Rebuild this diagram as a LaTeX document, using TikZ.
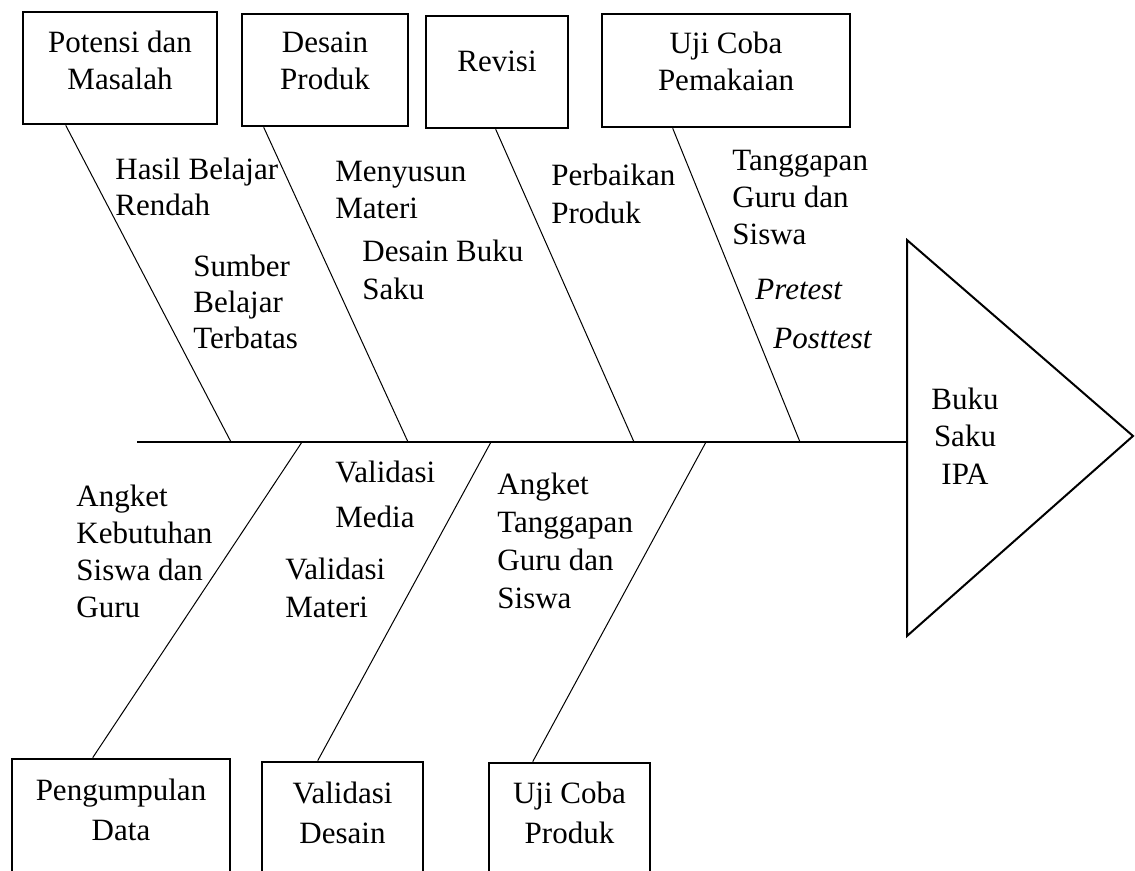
\documentclass[tikz,border=0pt]{standalone}
\usepackage{fontspec}
\setmainfont{Liberation Serif}
\usetikzlibrary{calc}

\begin{document}
\begin{tikzpicture}[x=0.5pt,y=-0.5pt,font=\fontsize{15.5}{18.5}\selectfont,
  procbox/.style={draw,line width=1.3pt,inner xsep=0pt,inner ysep=0pt,align=center,anchor=base},
  cause/.style={anchor=base west,align=left,inner sep=0pt},
  bone/.style={line width=0.5pt},
  spine/.style={line width=1.2pt}]
  \useasboundingbox (0,0) rectangle (1135,871);
  \clip (0,0) rectangle (1135,871);

  \node[procbox,minimum width=97pt,text height=39pt,text depth=17pt] (potensi) at (120,90) {Potensi dan\\Masalah};
  \node[procbox,minimum width=83pt,text height=38pt,text depth=18pt] (desain) at (325,90) {Desain\\Produk};
  \node[procbox,minimum width=71pt,text height=28pt,text depth=28pt] (revisi) at (497,72) {Revisi};
  \node[procbox,minimum width=124pt,text height=38.5pt,text depth=18pt] (ujipakai) at (726,91) {Uji Coba\\Pemakaian};
  \node[procbox,font=\fontsize{15.5}{20}\selectfont,minimum width=109pt,text height=40.5pt,text depth=25pt] (kumpul) at (121,840) {Pengumpulan\\Data};
  \node[procbox,font=\fontsize{15.5}{20}\selectfont,minimum width=80.5pt,text height=40.5pt,text depth=22pt] (valdesain) at (342.5,843) {Validasi\\Desain};
  \node[procbox,font=\fontsize{15.5}{20}\selectfont,minimum width=80.5pt,text height=40pt,text depth=22pt] (ujiproduk) at (569.5,843) {Uji Coba\\Produk};

  \coordinate (tail) at (137,442);
  \coordinate (head) at (907,442);
  \foreach \n/\x in {s1/231,s2/408,s3/634,s4/800,s5/302,s6/491,s7/706}
    \coordinate (\n) at (\x,442);

  \draw[spine] (tail) -- (head);
  \draw[line width=1pt] (907,240) coordinate (tritop) -- (1133,436) coordinate (tip) -- (907,636) coordinate (tribot) -- cycle;
  \node[align=center,anchor=base] (buku) at (965,484) {Buku\\Saku\\IPA};

  \draw[bone] ($(potensi.south west)+(44,0)$) -- (s1);
  \draw[bone] ($(desain.south west)+(23,0)$) -- (s2);
  \draw[bone] ($(revisi.south west)+(71,0)$) -- (s3);
  \draw[bone] ($(ujipakai.south west)+(72,0)$) -- (s4);
  \draw[bone] ($(kumpul.north west)+(82,0)$) -- (s5);
  \draw[bone] ($(valdesain.north west)+(57,0)$) -- (s6);
  \draw[bone] ($(ujiproduk.north west)+(45,0)$) -- (s7);

  \node[cause,font=\fontsize{15.5}{18}\selectfont] (hasil) at (115,216) {Hasil Belajar\\Rendah};
  \node[cause,font=\fontsize{15.5}{18}\selectfont] (sumber) at (193,349) {Sumber\\Belajar\\Terbatas};
  \node[cause] (menyusun) at (335,219) {Menyusun\\Materi};
  \node[cause,font=\fontsize{15.5}{19}\selectfont] (desbuku) at (362,300) {Desain Buku\\Saku};
  \node[cause,font=\fontsize{15.5}{19}\selectfont] (perbaikan) at (551,224) {Perbaikan\\Produk};
  \node[cause] (tanggapan) at (732,245) {Tanggapan\\Guru dan\\Siswa};
  \node[cause,font=\fontsize{15.5}{18.5}\itshape] (pretest) at (755,300) {Pretest};
  \node[cause,font=\fontsize{15.5}{18.5}\itshape] (posttest) at (773,349) {Posttest};

  \node[cause] (kebutuhan) at (76,617) {Angket\\Kebutuhan\\Siswa dan\\Guru};
  \node[cause,font=\fontsize{15.5}{22.5}\selectfont] (valmedia) at (335,527) {Validasi\\Media};
  \node[cause,font=\fontsize{15.5}{19}\selectfont] (valmateri) at (285,617) {Validasi\\Materi};
  \node[cause,font=\fontsize{15.5}{19}\selectfont] (angtanggap) at (497,608) {Angket\\Tanggapan\\Guru dan\\Siswa};
\end{tikzpicture}
\end{document}
